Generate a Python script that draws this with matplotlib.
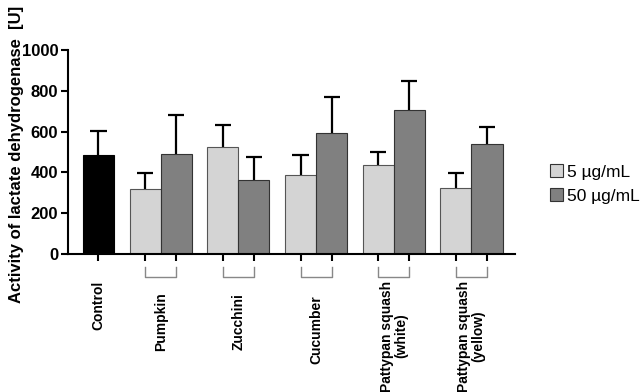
import matplotlib
matplotlib.use("Agg")
from matplotlib import pyplot as plt
from matplotlib.patches import Patch
from matplotlib import transforms

plt.rcParams['font.family'] = ['Liberation Sans', 'DejaVu Sans']

# data
control_mean = 485
control_sd = 120
groups = ['Pumpkin', 'Zucchini', 'Cucumber', 'Pattypan squash\n(white)', 'Pattypan squash\n(yellow)']
low_mean = [321, 525, 389, 436, 323]
low_sd = [77, 109, 95, 64, 74]
high_mean = [492, 361, 592, 707, 539]
high_sd = [187, 116, 178, 142, 84]
series_labels = ['5 µg/mL', '50 µg/mL']
y_ticks = [0, 200, 400, 600, 800, 1000]

# layout
label_centers = [322, 322, 330, 336, 336]  # pixel y of group label centers
control_label_center = 305

fig = plt.figure(figsize=(6.4, 3.92), dpi=100)
ax = fig.add_axes([68 / 640, 1 - 254 / 392, (515 - 68) / 640, (254 - 50) / 392])

light = '#d4d4d4'
dark = '#808080'


def bars_with_sd(x, mean, sd, color, edge):
    ax.bar(x, mean, width=1, color=color, edgecolor=edge, linewidth=0.8, zorder=2)
    tops = [m + s for m, s in zip(mean, sd)]
    ax.vlines(x, mean, tops, color='black', lw=1.6, zorder=1)
    ax.hlines(tops, [v - 0.26 for v in x], [v + 0.26 for v in x], color='black', lw=1.6, zorder=1)


bars_with_sd([0], [control_mean], [control_sd], 'black', 'black')
low_x = [1.5 + 2.5 * i for i in range(len(groups))]
high_x = [x + 1 for x in low_x]
bars_with_sd(low_x, low_mean, low_sd, light, '#555555')
bars_with_sd(high_x, high_mean, high_sd, dark, '#333333')

ax.set_xlim(-0.98, 13.4)
ax.set_ylim(0, 1000)
ax.set_yticks(y_ticks)
ax.set_yticklabels([str(t) for t in y_ticks], fontweight='bold', fontsize=12)
ax.set_xticks([0] + low_x + high_x)
ax.set_xticklabels([])
ax.tick_params(axis='both', width=1.5, length=5, color='black', pad=2)
for side in ['top', 'right']:
    ax.spines[side].set_visible(False)
for side in ['left', 'bottom']:
    ax.spines[side].set_linewidth(1.5)

ax.set_ylabel('Activity of lactate dehydrogenase  [U]', fontweight='bold', fontsize=12)
ax.yaxis.set_label_coords(-0.098, 0.49)

# brackets and group labels under the axis
px_to_axes = lambda py: (254 - py) / 204
trans = transforms.blended_transform_factory(ax.transData, ax.transAxes)
for i, name in enumerate(groups):
    x0, x1 = low_x[i], high_x[i]
    y_top, y_bot = px_to_axes(267), px_to_axes(277)
    ax.plot([x0, x0, x1, x1], [y_top, y_bot, y_bot, y_top], color='#888888', lw=1,
            transform=trans, clip_on=False)
    ax.text((x0 + x1) / 2, px_to_axes(label_centers[i]), name, rotation=90,
            ha='center', va='center', fontsize=10, fontweight='bold',
            transform=trans, multialignment='center', linespacing=1.0)
ax.text(0, px_to_axes(control_label_center), 'Control', rotation=90, ha='center', va='center',
        fontsize=10, fontweight='bold', transform=trans)

handles = [Patch(facecolor=light, edgecolor='#333333', linewidth=0.8),
           Patch(facecolor=dark, edgecolor='#333333', linewidth=0.8)]
fig.legend(handles, series_labels, loc='center left', bbox_to_anchor=(550 / 640, 1 - 184 / 392),
           frameon=False, fontsize=12.5, handlelength=0.75, handleheight=0.75,
           handletextpad=0.25, labelspacing=0.5, borderpad=0, borderaxespad=0)

fig.savefig('out.png', dpi=100)
